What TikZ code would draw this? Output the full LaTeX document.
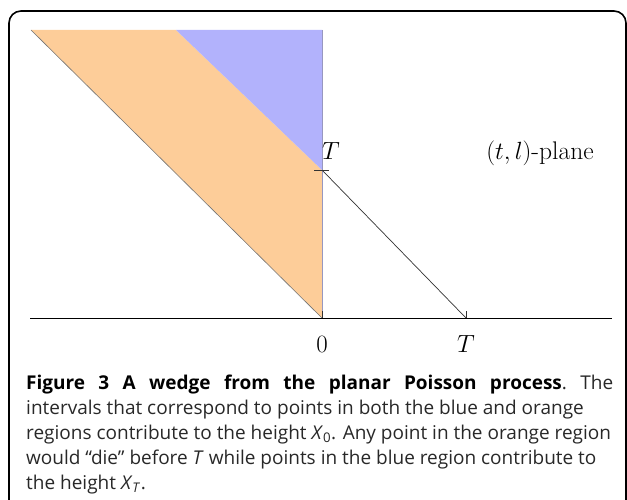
\documentclass[tikz,border=0pt]{standalone}
\usepackage{fontspec}
\newfontfamily\capfont{Open Sans}
\usepackage{xcolor}
\definecolor{wedgeorange}{RGB}{253,205,153}
\definecolor{wedgeblue}{RGB}{178,178,252}
\definecolor{captext}{RGB}{40,40,40}
\begin{document}
\begin{tikzpicture}[x=1pt,y=-1pt,
  axisline/.style={line width=0.9pt,black},
  thinline/.style={line width=0.7pt,black!80},
  mathlabel/.style={font=\fontsize{27}{27}\selectfont,inner sep=0pt},
  planelabel/.style={font=\fontsize{25.5}{25.5}\selectfont,inner sep=0pt},
  capline/.style={anchor=base west,inner sep=0pt,
    font=\capfont\fontsize{19}{25}\selectfont,text=captext}]
\useasboundingbox (0,0) rectangle (627,500);
% frame
\draw[line width=1.6pt,rounded corners=12pt] (9,520) -- (9,11) -- (626,11) -- (626,520);
% coordinates
\coordinate (topleft) at (31,30);
\coordinate (bluetop) at (176,30);
\coordinate (vtop) at (322,30);
\coordinate (origin) at (322,318);
\coordinate (tv) at (322,170);
\coordinate (th) at (466,318);
\coordinate (axl) at (30,318);
\coordinate (axr) at (612,318);
% regions
\fill[wedgeorange] (topleft) -- (origin) -- (tv) -- (bluetop) -- cycle;
\fill[wedgeblue] (bluetop) -- (tv) -- (vtop) -- cycle;
\draw[line width=0.6pt,black!55] (topleft) -- (origin);
\draw[line width=0.6pt,wedgeblue!70!black!80] (vtop) -- (origin);
% axis
\draw[axisline] (axl) -- (axr);
\draw[thinline] (tv) -- (th);
\draw[thinline] ([xshift=-8pt]tv) -- ([xshift=7pt]tv);
\draw[thinline] (origin) -- ([yshift=7pt]origin);
\draw[thinline] (th) -- ([yshift=7pt]th);
% labels
\node[mathlabel,anchor=base] (zero) at (322,352) {$0$};
\node[mathlabel,anchor=base] (tlab) at (466,352) {$T$};
\node[mathlabel,anchor=base west] (tvlab) at (322,160) {$T$};
\node[planelabel,anchor=base] (plane) at (540,160) {$(t,l)$-plane};
% caption
\node[capline] (cap1) at (26,389) {\hbox to 587pt{\color{black}\bfseries Figure\hfill 3\hfill A\hfill wedge\hfill from\hfill the\hfill planar\hfill Poisson\hfill process\color{captext}\mdseries.\hfill The}};
\node[capline] (cap2) at (26,414) {intervals that correspond to points in both the blue and orange};
\node[capline] (cap3) at (26,439) {regions contribute to the height \textit{X}\textsubscript{0}. Any point in the orange region};
\node[capline] (cap4) at (26,464) {would “die” before \textit{T} while points in the blue region contribute to};
\node[capline] (cap5) at (26,489) {the height \textit{X}\textsubscript{\textit{T}}.};
\end{tikzpicture}
\end{document}
